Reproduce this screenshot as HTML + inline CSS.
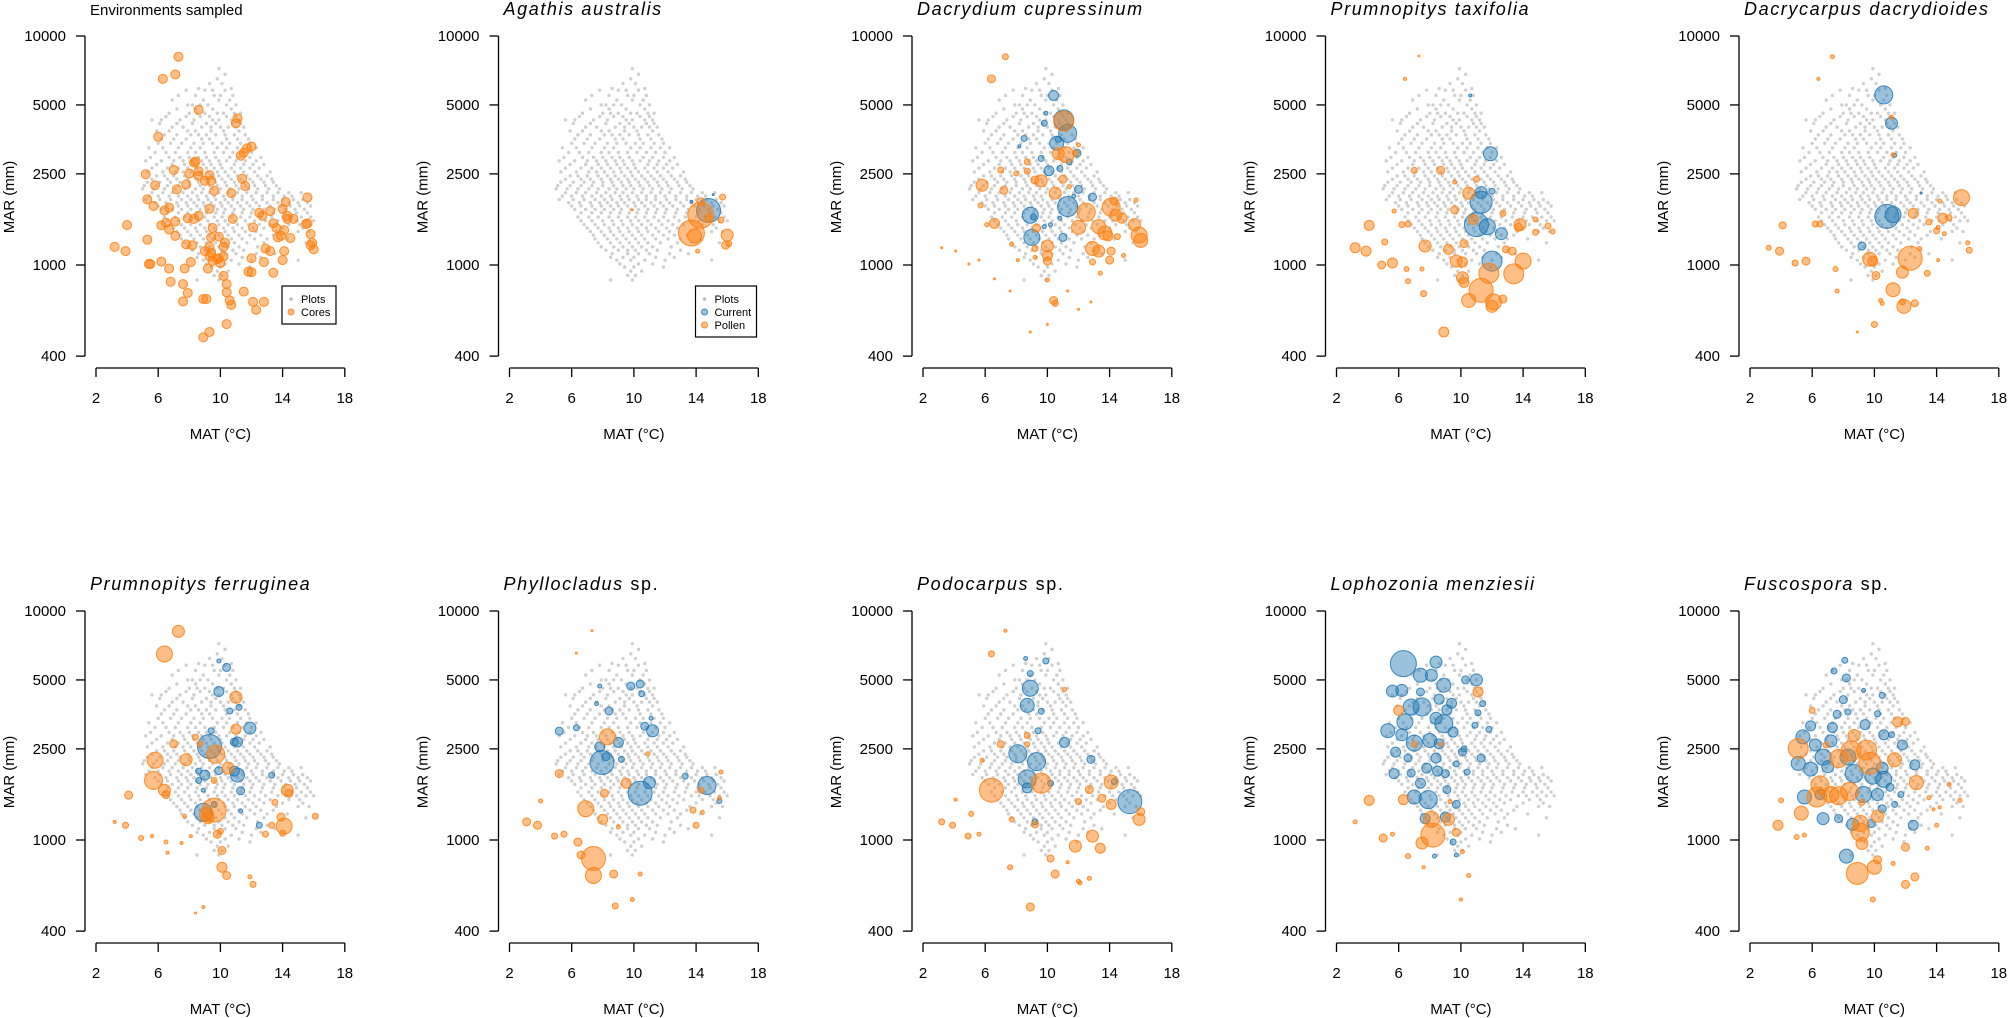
<!DOCTYPE html>
<html><head><meta charset="utf-8"><style>
html,body{margin:0;padding:0;background:#fff;}
svg{display:block;font-family:"Liberation Sans",Arial,sans-serif;}
</style></head><body>
<svg id="fig" width="2008" height="1018" viewBox="0 0 2008 1018" xmlns="http://www.w3.org/2000/svg"></svg>
<script>
// Plots (grey) environmental space: [MAR, [MAT values]]
const plotBands = [
[7200,[9.9]],[6500,[9.8]],[6200,[9.3,10.1]],[5800,[7.8,9.0,9.5,10.3]],
[5500,[7.3,8.4,9.6,10.0,10.8]],[5000,[7.9,8.2,8.7,9.2,10.4,11.0]],
[4600,[6.7,8.0,8.5,9.0,9.8,10.2,10.9,11.3]],[4300,[5.6,6.2,7.4,8.3,9.5,9.9,10.7,11.2]],
[4000,[6.9,7.6,8.8,9.4,10.0,10.5,11.0,11.5]],[3700,[6.4,7.2,8.1,8.6,9.1,9.7,10.3,10.9,11.6]],
[3400,[6.0,6.8,7.5,8.3,8.9,9.5,10.1,10.6,11.3,11.9]],
[3100,[5.8,6.5,7.1,7.9,8.4,9.0,9.6,10.2,10.8,11.4,12.0]],
[2850,[5.2,6.2,7.0,7.6,8.2,8.8,9.3,9.9,10.4,11.0,11.6,12.3]],
[2650,[5.6,6.6,7.3,7.9,8.5,9.1,9.6,10.1,10.7,11.3,11.9,12.5]],
[2450,[5.9,6.4,7.0,7.7,8.3,8.8,9.4,9.9,10.5,11.1,11.7,12.4,13.0]],
[2300,[5.3,6.1,6.8,7.4,8.0,8.6,9.2,9.7,10.3,10.9,11.5,12.1,12.8,13.4]],
[2150,[5.0,5.7,6.4,7.1,7.7,8.4,8.9,9.5,10.0,10.6,11.2,11.8,12.4,13.1,13.8]],
[2000,[5.4,6.0,6.7,7.3,7.9,8.5,9.1,9.6,10.2,10.8,11.4,12.0,12.7,13.4,14.1,14.6]],
[1870,[5.8,6.5,7.2,7.8,8.3,8.9,9.4,10.0,10.5,11.1,11.7,12.3,13.0,13.7,14.4,15.0,15.6]],
[1750,[6.2,6.9,7.5,8.1,8.7,9.2,9.8,10.3,10.9,11.5,12.1,12.8,13.5,14.2,14.8,15.4]],
[1620,[6.4,7.1,7.7,8.4,9.0,9.6,10.1,10.7,11.3,11.9,12.6,13.3,14.0,14.6,15.2,15.8]],
[1500,[6.8,7.5,8.1,8.7,9.3,9.9,10.5,11.1,11.8,12.5,13.2,14.4,15.1]],
[1400,[7.2,7.9,8.5,9.1,9.7,10.3,10.9,11.6,12.3,13.6,15.0,15.7]],
[1300,[7.5,8.3,8.9,9.5,10.1,10.7,11.4,12.2,13.0,14.3]],
[1200,[7.9,8.7,9.3,9.9,10.5,11.2,12.4]],
[1120,[8.6,9.6,10.3,11.0,12.3,13.5]],
[1050,[8.9,9.8,10.7,12.0,15.0]],
[980,[9.4,10.0,11.9]],[900,[9.6,10.1]],[860,[8.5,9.9]],
[6800,[10.3]],[5900,[8.6,10.7]],[5250,[6.9,8.9,9.9,10.6]],[4800,[7.2,8.4,9.5,10.7]],
[4450,[6.5,7.8,8.7,9.3,10.4,11.0]],[4150,[6.1,7.2,8.2,9.1,9.7,10.8,11.3]],
[3850,[5.9,6.7,7.9,8.4,9.4,10.2,11.2]],[3550,[6.2,7.0,7.8,8.8,9.3,10.4,11.1,11.8]],
[3250,[5.4,6.3,7.3,8.1,8.7,9.8,10.4,11.1,11.7,12.3]],[2950,[5.5,6.7,7.4,8.0,8.6,9.1,9.7,10.6,11.2,11.9,12.6]],
[2750,[5.9,6.9,7.7,8.3,8.9,9.4,10.0,10.9,11.5,12.1,12.8]],[2550,[5.3,6.3,7.1,7.6,8.1,8.7,9.2,9.8,10.3,10.9,11.5,12.2,13.2]],
[2370,[5.6,6.6,7.2,7.9,8.5,9.0,9.6,10.1,10.7,11.3,11.9,12.6,13.3]],[2220,[5.1,5.9,6.6,7.3,8.0,8.7,9.3,9.8,10.4,11.0,11.6,12.2,12.9,13.6]],
[2070,[5.6,6.3,6.9,7.6,8.2,8.8,9.3,9.9,10.5,11.1,11.7,12.3,13.0,13.7,14.4,15.2]],[1930,[5.2,6.1,6.8,7.5,8.1,8.6,9.2,9.7,10.3,10.8,11.4,12.1,12.7,13.4,14.0,14.7,15.3]],
[1810,[6.0,6.6,7.3,7.9,8.5,9.0,9.6,10.1,10.7,11.3,11.9,12.5,13.2,13.9,14.5,15.1,15.8]],[1690,[6.6,7.3,7.9,8.5,9.1,9.7,10.2,10.8,11.4,12.0,12.7,13.4,14.1,14.9,15.6]],
[1560,[6.6,7.3,8.0,8.6,9.2,9.8,10.3,10.9,11.6,12.2,12.9,13.7,14.2,14.9,15.5,16.0]],[1450,[7.0,7.7,8.4,9.0,9.6,10.2,10.8,11.4,12.1,12.8,14.0,15.3]],
[1350,[7.4,8.1,8.7,9.3,9.9,10.5,11.2,11.9,12.6,13.4]],[1250,[7.7,8.5,9.1,9.7,10.3,10.9,11.7,12.8,15.5]],
[1160,[8.2,9.0,9.6,10.1,10.8,11.5,13.0]],[1080,[8.5,9.3,10.0,11.4,12.6]],[1010,[9.1,10.3,11.2]],[940,[9.8,10.5]]
];

// Panel 1: cores [MAT, MAR]
const cores = [
[7.3,8120],[6.3,6500],[7.1,6800],[8.6,4760],[11.1,4370],[11.0,4160],[6.0,3630],[12.0,3290],[11.7,3230],[11.5,3090],[11.3,3000],
[8.3,2800],[8.4,2830],[8.6,2570],[8.6,2450],[8.0,2510],[7.0,2600],[5.2,2490],[9.3,2470],[9.4,2330],[9.0,2330],[11.4,2380],
[5.8,2230],[7.8,2250],[7.2,2140],[9.6,2110],[11.6,2210],[10.7,2060],[5.3,1935],[5.7,1810],[15.6,1975],[14.2,1885],[9.3,1760],
[6.7,1780],[6.4,1730],[12.5,1690],[13.2,1720],[12.7,1640],[14.0,1760],[14.3,1640],[14.7,1590],[14.3,1590],[15.5,1510],[15.6,1520],
[13.4,1520],[10.8,1590],[7.9,1600],[8.3,1590],[8.6,1640],[7.1,1550],[6.5,1530],[6.2,1490],[6.7,1430],[4.0,1495],[9.5,1450],
[12.1,1460],[13.6,1450],[14.1,1420],[15.8,1365],[7.1,1340],[13.7,1320],[14.5,1310],[13.9,1340],[15.9,1250],[15.8,1220],[16.0,1170],
[9.4,1320],[9.9,1330],[10.3,1250],[7.8,1230],[8.2,1220],[10.2,1200],[5.3,1290],[3.2,1200],[3.9,1150],[9.3,1200],[9.0,1150],
[9.4,1130],[9.3,1090],[9.9,1070],[10.2,1090],[10.0,1020],[9.8,1060],[9.5,1040],[13.2,1150],[12.9,1180],[14.1,1150],[12.0,1070],
[12.8,1030],[14.0,1050],[8.1,1030],[9.2,965],[5.5,1010],[5.4,1010],[6.2,1035],[6.7,965],[7.7,965],[11.8,935],[12.0,930],[13.4,925],
[10.2,896],[10.4,825],[6.8,845],[7.6,825],[7.9,755],[10.4,760],[11.5,765],[7.6,693],[8.9,710],[9.1,710],[10.6,700],[10.7,670],
[12.1,690],[12.3,637],[12.8,690],[10.4,552],[9.3,510],[8.9,483]
];

// Species panels: pollen (orange) and current (blue), [MAT, MAR, size]
const pollenAgathis = [[14.3,1650,13],[13.7,1380,13],[13.9,1340,7],[14.3,1890,4],[14.8,1600,4],[15.7,1980,3],[15.6,1570,3],[16.0,1350,6],[15.9,1220,4],[16.1,1240,3],[14.1,1150,2],[9.9,1740,1]];
const currentAgathis = [[14.8,1730,12],[13.7,1890,1.5],[15.1,2030,1]];

const pollenDacrydium = [[11.05,4250,10],[11.2,3030,8],[10.7,3060,6],[11.8,3080,3],[12.0,3340,2],[7.3,8120,3],[6.4,6500,4],[5.8,2230,6],[7.0,2600,3],[7.2,2120,4],[5.7,1820,2.5],[6.6,1520,5],[6.1,1500,2],[8.7,2820,3],[8.7,2570,3],[8.0,2510,2.5],[9.2,2350,4],[9.6,2330,6],[11.0,2370,4],[10.5,2060,6],[11.4,2200,2],[12.5,1700,9],[14.1,1790,9],[14.3,1900,4],[14.4,1650,6],[14.8,1600,5],[12.0,1460,7],[13.3,1470,7],[13.7,1380,7],[13.9,1340,5],[15.6,1500,6],[15.9,1350,8],[16.0,1280,7],[15.7,1920,2],[12.9,1180,7],[13.3,1150,6],[14.1,1150,4],[14.5,1330,3],[12.9,1030,3],[14.0,1050,4],[13.4,920,2],[14.9,1100,2],[10.0,1210,6],[10.0,1100,5],[10.0,1040,4],[9.3,1450,4],[9.2,1180,3],[9.2,1080,2],[10.4,700,4],[10.5,680,3],[10.0,860,2],[8.1,1050,1.5],[7.7,1230,2],[6.6,870,1],[4.95,1010,1],[3.2,1190,1],[4.1,1150,1],[5.6,1050,1],[7.6,770,1],[10.0,550,1],[8.9,510,1],[12.0,640,1],[12.8,690,1],[11.3,770,1]];
const currentDacrydium = [[10.4,5500,5],[11.05,4300,10],[11.3,3760,9],[10.6,3400,7],[8.5,3570,3],[9.8,4160,3],[9.9,4600,2],[10.7,3540,3],[11.9,3080,4],[11.4,2820,3],[9.6,2920,3],[10.1,2580,5],[10.8,2640,3],[11.3,1800,10],[8.9,1650,8],[9.0,1320,8],[11.0,1320,4],[12.0,2140,4],[12.9,1980,4],[11.7,2000,2],[9.1,1620,3],[9.8,1470,2],[10.2,1500,2],[10.8,1600,2],[8.2,3300,1.5]];

const pollenTaxifolia = [[11.3,775,12],[11.8,920,10],[13.4,915,10],[14.0,1040,8],[12.1,690,8],[12.0,660,6],[10.5,700,7],[10.1,880,6],[10.2,840,5],[9.7,1040,6],[10.1,1030,5],[9.2,1170,5],[7.7,1210,6],[10.2,1240,4],[10.8,1580,5],[10.5,2060,6],[9.6,1740,4],[8.7,2590,4],[7.0,2590,3],[11.0,2370,3],[9.6,2300,2],[13.8,1500,6],[13.7,1460,4],[14.8,1390,3],[15.6,1480,3],[15.9,1400,2.5],[12.9,1170,3.5],[13.3,1150,4],[14.8,1580,2.5],[12.7,1680,3],[4.1,1490,5],[3.2,1190,5],[3.9,1150,5],[5.1,1260,3],[4.9,1000,4],[5.6,1020,5],[6.5,960,2.5],[6.6,850,2.5],[7.6,750,3],[8.9,510,5],[6.2,1500,3],[6.6,1510,3],[5.7,1720,2],[12.7,710,4],[7.5,960,2],[6.4,6500,1.5],[7.3,8180,1]];
const currentTaxifolia = [[11.9,3060,7],[11.3,2070,6],[11.3,1880,11],[12.0,2100,3],[11.0,1500,12],[11.7,1470,8],[12.6,1370,6],[12.0,1040,10],[10.6,5500,1.5]];

const pollenDacrycarpus = [[12.3,1070,12],[9.7,1060,7],[9.9,1040,5],[11.8,930,6],[10.1,900,4],[11.2,780,7],[11.9,660,7],[12.6,680,3.5],[11.8,690,3],[15.6,1970,8],[12.5,1680,5],[14.4,1600,5],[14.8,1610,3],[14.2,1900,2],[16.1,1160,3],[16.0,1250,2],[13.4,920,3],[12.9,1180,2],[13.5,1540,3],[14.0,1410,3],[14.5,1370,2],[14.1,1460,2],[4.1,1490,3.5],[3.2,1190,2.5],[3.9,1150,4],[4.9,1020,3],[5.6,1040,4],[6.2,1510,3],[6.5,1510,3],[11.1,4420,2],[11.2,3030,2],[7.3,8120,2],[10.0,550,3],[7.5,960,2.5],[7.6,770,2],[10.4,700,2],[10.5,680,2],[6.4,6500,1.5],[8.9,510,1],[14.1,1050,1.5]];
const currentDacrycarpus = [[10.6,5530,9],[11.1,4160,6],[10.8,1630,12],[11.2,1660,8],[9.2,1210,4],[11.3,3010,2],[13.0,2060,1]];

const pollenFerruginea = [[7.3,8150,6],[6.4,6490,8],[11.0,4200,6],[11.0,3050,5],[9.7,2370,9],[10.5,2060,6],[5.8,2230,8],[5.7,1820,9],[7.0,2630,4],[7.8,2240,6],[8.4,2810,3],[6.4,1650,6],[6.5,1580,4],[4.1,1570,4],[9.6,1350,12],[9.1,1290,7],[9.2,1250,6],[9.6,1820,3],[8.7,2630,3],[14.3,1650,6],[14.4,1600,4],[14.1,1150,8],[14.0,1070,3],[12.9,1060,3],[13.3,1160,3],[13.9,1260,4],[13.5,1460,3],[16.1,1270,3],[9.8,1060,4],[10.0,1090,3],[10.1,900,4],[10.1,760,5],[10.4,700,4],[11.9,690,2],[12.1,640,3],[3.2,1200,1.5],[3.9,1160,3],[4.9,1020,2.5],[5.6,1040,1.5],[6.5,980,2],[7.5,970,1.5],[6.6,880,1.5],[8.1,1040,1.5],[7.7,1270,2],[8.9,510,1.5],[8.4,480,1]];
const currentFerruginea = [[9.3,2560,12],[11.9,3080,6],[11.1,2680,5],[10.9,2680,4],[10.4,5670,4],[9.9,6050,2],[9.9,4450,5],[10.6,3660,3],[11.2,3800,3],[9.4,3000,3],[9.9,2010,4],[9.0,1920,5],[8.6,2000,3],[8.6,1820,3],[11.1,1920,7],[10.9,2000,5],[11.3,1640,4],[8.9,1320,9],[9.6,1430,3],[13.3,1920,3],[12.5,1160,3],[11.3,1340,2],[8.9,1650,2]];

const pollenPhyllocladus = [[8.3,2820,8],[9.5,1770,5],[6.9,1370,8],[8.0,1230,5],[8.1,1600,4],[7.4,830,12],[7.4,700,8],[6.4,980,4],[6.6,860,4],[8.7,710,4],[8.8,515,3],[9.9,550,2],[3.1,1200,4],[3.8,1160,4],[4.9,1040,3],[5.5,1060,3],[5.2,1950,4],[4.0,1480,2],[14.3,1650,3],[13.8,1350,3],[14.0,1160,3],[14.4,1320,2],[15.6,1980,2],[15.5,1520,2],[9.0,1140,2],[10.4,710,2],[7.3,8200,1],[6.3,6550,1],[10.9,2380,2]];
const currentPhyllocladus = [[7.95,2180,12],[10.4,1600,12],[11.0,1780,6],[14.7,1730,9],[9.0,2670,5],[7.8,2550,5],[8.2,2310,4],[11.2,3000,6],[10.7,3140,4],[9.8,4700,4],[10.4,4800,4],[10.5,4350,3],[8.4,3660,4],[5.2,2990,4],[6.3,3090,3],[9.2,2250,3],[7.8,4700,2],[7.6,3940,2],[13.3,1900,3],[15.5,1480,2.5],[11.1,3400,2]];

const pollenPodocarpus = [[6.4,1650,12],[9.6,1770,10],[14.1,1790,7],[14.1,1430,5],[13.5,1520,4],[15.9,1230,6],[16.0,1330,4],[12.7,1660,4],[11.8,940,6],[12.9,1040,6],[13.4,920,5],[10.2,830,3.5],[10.5,710,4],[12.0,1470,3],[9.2,1170,3.5],[7.7,1230,2.5],[7.0,2620,3.5],[8.7,2860,3],[8.7,2620,2.5],[5.8,2230,2],[5.1,1300,2.5],[3.2,1200,3],[3.9,1160,3],[4.9,1040,3],[5.6,1060,2],[7.6,760,2.5],[8.9,510,4],[6.4,6500,3],[7.3,8200,1.5],[12.0,660,2],[12.1,650,2],[12.7,680,2],[11.3,800,1.5],[11.1,4540,2],[4.1,1500,1.5]];
const currentPodocarpus = [[8.9,4600,8],[8.7,3870,7],[8.9,5330,3],[9.9,6050,3],[8.6,6200,2],[9.4,3000,3],[8.1,2380,9],[9.3,2200,9],[8.7,1850,9],[8.7,1690,5],[11.1,2670,5],[10.2,1770,3],[12.8,2250,4],[15.3,1470,12],[9.6,3650,3],[14.3,1800,3],[9.2,1200,3]];

const pollenLophozonia = [[11.1,4430,5],[6.0,3680,5],[7.0,2620,3],[8.7,2620,2],[4.1,1490,5],[6.3,1500,5],[8.1,1230,8],[8.2,1050,12],[7.5,970,6],[9.2,1230,6],[9.7,1080,4],[5.0,1020,4],[3.2,1200,2],[6.6,850,2.5],[10.1,890,2],[10.5,700,2],[9.3,1470,2],[10.0,550,1.5],[7.6,760,1.5],[5.6,1060,2]];
const currentLophozonia = [[6.3,5890,13],[8.4,5980,6],[7.4,5240,7],[8.1,5240,6],[8.9,4740,7],[11.0,5000,6],[10.3,5000,4],[5.6,4470,6],[6.2,4500,6],[7.4,4430,4],[6.8,3810,8],[7.5,3810,9],[8.6,4120,5],[9.4,3950,5],[9.1,3700,5],[11.4,3940,3],[6.4,3280,8],[8.9,3220,9],[8.4,3400,6],[5.3,3000,7],[6.2,2880,6],[7.0,2650,8],[8.0,2720,7],[8.6,2630,5],[9.5,2960,5],[5.8,2420,5],[6.6,2280,4],[8.4,2280,5],[10.1,2420,4],[11.3,2280,4],[5.7,1950,5],[6.8,1960,4],[7.8,2060,5],[8.5,2000,5],[9.0,1950,4],[9.7,2150,3],[10.4,1980,3],[7.4,1770,5],[9.1,1660,4],[7.0,1540,7],[7.9,1500,9],[9.7,1430,4],[7.7,1240,5],[9.0,1260,5],[9.5,980,3],[8.3,850,2],[9.7,860,2],[11.1,3590,3],[10.9,3170,3],[11.8,3040,3],[10.2,2500,3]];

const pollenFuscospora = [[5.1,2510,10],[8.7,2860,6],[8.5,2450,10],[9.5,2470,10],[9.7,2160,11],[7.7,2270,9],[11.3,2240,7],[11.5,3280,5],[12.0,3290,4],[12.7,1780,7],[6.5,1740,9],[6.3,1540,10],[7.2,1580,8],[7.7,1560,9],[8.4,1630,9],[5.3,1310,7],[3.8,1160,5],[9.1,1180,8],[9.1,1080,9],[9.2,965,6],[10.2,1270,6],[8.9,715,11],[10.0,760,7],[10.2,820,4],[12.0,930,4],[12.6,690,4],[12.0,640,4],[6.0,3680,3],[6.9,2600,3],[4.0,1490,2.5],[5.0,1030,2.5],[5.5,1050,2],[9.2,1460,3],[9.9,550,2.5],[11.2,790,2],[13.4,920,2],[14.0,1160,2],[14.8,1750,2],[15.5,1490,2],[13.5,1530,2],[14.2,1390,1.5],[13.8,1360,1.5]];
const currentFuscospora = [[8.1,6090,3],[7.4,5470,3],[8.2,5100,4],[8.0,4100,4],[7.6,3540,4],[8.3,3620,3],[9.4,3190,5],[5.9,3150,5],[7.3,3100,5],[5.4,2820,7],[6.2,2600,6],[7.2,2710,6],[10.6,2880,5],[11.8,2600,5],[5.1,2160,7],[5.9,2040,7],[6.7,2300,8],[7.0,2090,6],[8.3,2300,8],[8.7,1950,9],[9.9,1900,8],[10.6,1840,8],[10.5,2060,6],[5.5,1540,7],[6.5,1580,5],[9.3,1580,8],[10.2,1580,6],[11.0,1700,4],[6.7,1240,6],[7.7,1240,4],[8.6,1170,6],[9.8,1180,4],[10.5,1370,4],[8.2,850,7],[12.5,1160,5],[12.6,2130,5],[11.3,1430,3],[11.7,1580,3],[10.5,4280,3],[10.2,3560,3],[11.1,2880,3],[9.3,4500,2]];

const panels = [
 {title:"Environments sampled", italic:false, suffix:"", pollen:null, current:null, legend:"cores"},
 {title:"Agathis australis", italic:true, suffix:"", pollen:pollenAgathis, current:currentAgathis, legend:"species"},
 {title:"Dacrydium cupressinum", italic:true, suffix:"", pollen:pollenDacrydium, current:currentDacrydium},
 {title:"Prumnopitys taxifolia", italic:true, suffix:"", pollen:pollenTaxifolia, current:currentTaxifolia},
 {title:"Dacrycarpus dacrydioides", italic:true, suffix:"", pollen:pollenDacrycarpus, current:currentDacrycarpus},
 {title:"Prumnopitys ferruginea", italic:true, suffix:"", pollen:pollenFerruginea, current:currentFerruginea},
 {title:"Phyllocladus", italic:true, suffix:" sp.", pollen:pollenPhyllocladus, current:currentPhyllocladus},
 {title:"Podocarpus", italic:true, suffix:" sp.", pollen:pollenPodocarpus, current:currentPodocarpus},
 {title:"Lophozonia menziesii", italic:true, suffix:"", pollen:pollenLophozonia, current:currentLophozonia},
 {title:"Fuscospora", italic:true, suffix:" sp.", pollen:pollenFuscospora, current:currentFuscospora}
];
const yTicks = [10000,5000,2500,1000,400];
const xTicks = [2,6,10,14,18];

const NS="http://www.w3.org/2000/svg";
const svg=document.getElementById('fig');
function mk(tag,attrs,parent){const e=document.createElementNS(NS,tag);for(const k in attrs)e.setAttribute(k,attrs[k]);(parent||svg).appendChild(e);return e;}
function axX(i){return 85+413.5*(i%5);}
function topY(i){return 36+575*Math.floor(i/5);}
function xs(t,i){return axX(i)+11+(t-2)*15.55;}
function ys(m,i){return topY(i)+(4-Math.log10(m))*229;}

const OR_FILL="rgba(255,127,14,0.5)",OR_STROKE="rgba(255,127,14,0.85)";
const BL_FILL="rgba(31,119,180,0.45)",BL_STROKE="rgba(31,119,180,0.85)";

panels.forEach((p,i)=>{
  const g=mk('g',{});
  
  
  const ax=axX(i), top=topY(i);
  const t=mk('text',{x:ax+5,y:top-21,'font-size':p.italic?18:15,fill:'#000'},g);
  
  
  if(p.italic){t.setAttribute('letter-spacing','1.6');}
  const ts=mk('tspan',{'font-style':p.italic?'italic':'normal'},t); ts.textContent=p.title;
  if(p.suffix){const s2=mk('tspan',{'font-style':'normal'},t); s2.textContent=p.suffix;}
  const ya=mk('g',{},g);
  
  
  mk('line',{x1:ax,y1:ys(10000,i),x2:ax,y2:ys(400,i),stroke:'#000','stroke-width':1.3},ya);
  yTicks.forEach(v=>{
    const y=ys(v,i);
    mk('line',{x1:ax-9,y1:y,x2:ax,y2:y,stroke:'#000','stroke-width':1.3},ya);
    const lb=mk('text',{x:ax-19,y:y+5,'text-anchor':'end','font-size':15},ya);
    
    
    lb.textContent=v;
  });
  const yt=mk('text',{x:0,y:0,'text-anchor':'middle','font-size':15,transform:`translate(${ax-71},${top+161}) rotate(-90)`},ya);
  
  
  yt.textContent='MAR (mm)';
  const xa=mk('g',{},g);
  
  
  const xy=top+332;
  mk('line',{x1:xs(2,i),y1:xy,x2:xs(18,i),y2:xy,stroke:'#000','stroke-width':1.3},xa);
  xTicks.forEach(v=>{
    const x=xs(v,i);
    mk('line',{x1:x,y1:xy,x2:x,y2:xy+9,stroke:'#000','stroke-width':1.3},xa);
    const lb=mk('text',{x:x,y:xy+35,'text-anchor':'middle','font-size':15},xa);
    
    
    lb.textContent=v;
  });
  const xt=mk('text',{x:xs(10,i),y:xy+71,'text-anchor':'middle','font-size':15},xa);
  
  
  xt.textContent='MAT (°C)';
  const pg=mk('g',{fill:'#cfcfcf'},g);
  
  
  plotBands.forEach(b=>{b[1].forEach(tv=>{
    const c=mk('circle',{cx:xs(tv,i),cy:ys(b[0],i),r:1.7},pg);
    
    
  });});
  if(i===0){
    const cg=mk('g',{},g);
    
    
    cores.forEach(d=>{
      const c=mk('circle',{cx:xs(d[0],i),cy:ys(d[1],i),r:4.5,fill:OR_FILL,stroke:OR_STROKE,'stroke-width':1},cg);
      
      
    });
  } else {
    const bg=mk('g',{},g);
    
    
    p.current.forEach(d=>{
      const c=mk('circle',{cx:xs(d[0],i),cy:ys(d[1],i),r:d[2],fill:BL_FILL,stroke:BL_STROKE,'stroke-width':1},bg);
      
      
    });
    const og=mk('g',{},g);
    
    
    p.pollen.forEach(d=>{
      const c=mk('circle',{cx:xs(d[0],i),cy:ys(d[1],i),r:d[2],fill:OR_FILL,stroke:OR_STROKE,'stroke-width':1},og);
      
      
    });
  }
  if(p.legend){
    const lg=mk('g',{},g);
    
    
    const lx=ax+197, ly=top+250;
    const entries = p.legend==='cores' ? [['Plots','grey'],['Cores','orange']] : [['Plots','grey'],['Current','blue'],['Pollen','orange']];
    const w = p.legend==='cores'?54:61;
    mk('rect',{x:lx,y:ly,width:w,height:12+entries.length*13,fill:'#fff',stroke:'#000','stroke-width':1.2},lg);
    entries.forEach((e,k)=>{
      const cy=ly+13+k*13;
      if(e[1]==='grey') mk('circle',{cx:lx+9,cy:cy,r:1.8,fill:'#bdbdbd'},lg);
      else if(e[1]==='blue') mk('circle',{cx:lx+9,cy:cy,r:3,fill:BL_FILL,stroke:BL_STROKE},lg);
      else mk('circle',{cx:lx+9,cy:cy,r:3,fill:OR_FILL,stroke:OR_STROKE},lg);
      const tt=mk('text',{x:lx+19,y:cy+4,'font-size':11},lg);
      
      
      tt.textContent=e[0];
    });
  }
});
</script>
</body></html>
